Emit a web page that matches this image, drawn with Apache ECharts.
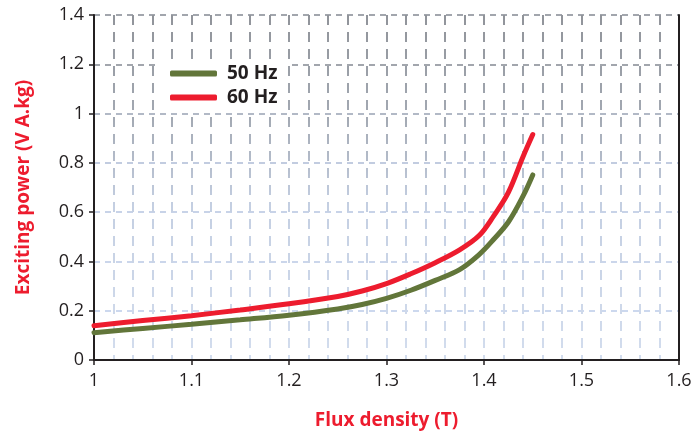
<!DOCTYPE html>
<html>
<head>
<meta charset="utf-8">
<script src="https://cdn.jsdelivr.net/npm/echarts@6/dist/echarts.min.js"></script>
<style>html,body{margin:0;padding:0;background:#fff}#chart{width:696px;height:437px}</style>
</head>
<body>
<div id="chart"></div>
<script>
// Flux density (T) sample points
const flux = [1.0, 1.05, 1.1, 1.15, 1.2, 1.25, 1.275, 1.3, 1.325, 1.35, 1.375, 1.395, 1.41, 1.425, 1.44, 1.45];
// Exciting power (V A.kg)
const power50 = [0.111, 0.128, 0.145, 0.163, 0.182, 0.207, 0.225, 0.25, 0.283, 0.323, 0.367, 0.428, 0.49, 0.56, 0.665, 0.751];
const power60 = [0.139, 0.160, 0.180, 0.203, 0.228, 0.258, 0.28, 0.31, 0.35, 0.395, 0.447, 0.505, 0.585, 0.68, 0.825, 0.915];
const seriesNames = ['50 Hz', '60 Hz'];
const xTitle = 'Flux density (T)';
const yTitle = 'Exciting power (V A.kg)';

const pair = (xs, ys) => xs.map((x, i) => [x, ys[i]]);
const FONT = '"Open Sans", "Noto Sans", sans-serif';
const TXT = '#231f20';
const RED = '#ed1c2e';
const GREEN = '#62763a';

const vGrad = new echarts.graphic.LinearGradient(0, 0, 0, 1, [
  {offset: 0, color: '#909399'},
  {offset: 0.3, color: '#a3a9b3'},
  {offset: 0.55, color: '#c4cfe2'},
  {offset: 1, color: '#d3ddee'}
]);
const fmt = v => String(Math.round(v * 10) / 10);

const chart = echarts.init(document.getElementById('chart'), null, {renderer: 'canvas'});
chart.setOption({
  animation: false,
  backgroundColor: '#fff',
  grid: {left: 94, right: 17, top: 15, bottom: 77},
  legend: {
    left: 160, top: 59, orient: 'vertical',
    backgroundColor: '#fff', padding: [5, 10, 5, 10],
    itemWidth: 47, itemHeight: 6, itemGap: 5,
    icon: 'roundRect',
    textStyle: {fontFamily: FONT, fontSize: 19, fontWeight: 'bold', color: TXT, padding: [0, 0, 0, 5]},
    data: seriesNames
  },
  xAxis: [{
    type: 'value', min: 1, max: 1.6, interval: 0.1,
    name: xTitle, nameLocation: 'middle', nameGap: 51,
    nameTextStyle: {fontFamily: FONT, fontSize: 19, fontWeight: 'bold', color: RED},
    axisLine: {lineStyle: {color: TXT, width: 2}},
    axisTick: {show: true, length: 5, lineStyle: {color: TXT, width: 1.5}},
    axisLabel: {fontFamily: FONT, fontSize: 18, color: TXT, margin: 12, formatter: fmt},
    splitLine: {show: true, lineStyle: {color: vGrad, width: 2, type: [10, 7]}},
    minorTick: {show: false, splitNumber: 5},
    minorSplitLine: {show: true, lineStyle: {color: vGrad, width: 2, type: [10, 7]}}
  }, {
    type: 'value', position: 'top', min: 1, max: 1.6, interval: 0.1,
    axisLine: {show: true, lineStyle: {color: TXT, width: 2}},
    axisTick: {show: false}, axisLabel: {show: false}, splitLine: {show: false}
  }],
  yAxis: [{
    type: 'value', min: 0, max: 1.4, interval: 0.2,
    name: yTitle, nameLocation: 'middle', nameGap: 61,
    nameTextStyle: {fontFamily: FONT, fontSize: 19, fontWeight: 'bold', color: RED},
    axisLine: {show: true, lineStyle: {color: TXT, width: 2}},
    axisTick: {show: true, length: 5, lineStyle: {color: TXT, width: 1.5}},
    axisLabel: {fontFamily: FONT, fontSize: 18, color: TXT, margin: 10, formatter: fmt},
    splitLine: {show: true, lineStyle: {
      color: ['#ccd8ee', '#ccd8ee', '#cbd6eb', '#c8d3e8', '#c2cce0', '#b2b9c6', '#a2a6ad', '#a2a6ad'],
      width: 2, type: [6, 5]}}
  }, {
    type: 'value', position: 'right', min: 0, max: 1.4, interval: 0.2,
    axisLine: {show: true, lineStyle: {color: TXT, width: 2}},
    axisTick: {show: false}, axisLabel: {show: false}, splitLine: {show: false}
  }],
  series: [
    {name: seriesNames[0], type: 'line', data: pair(flux, power50), smooth: 0.35, showSymbol: false,
      lineStyle: {color: GREEN, width: 5, cap: 'round'}, itemStyle: {color: GREEN}},
    {name: seriesNames[1], type: 'line', data: pair(flux, power60), smooth: 0.35, showSymbol: false,
      lineStyle: {color: RED, width: 5, cap: 'round'}, itemStyle: {color: RED}}
  ]
});
</script>
</body>
</html>
